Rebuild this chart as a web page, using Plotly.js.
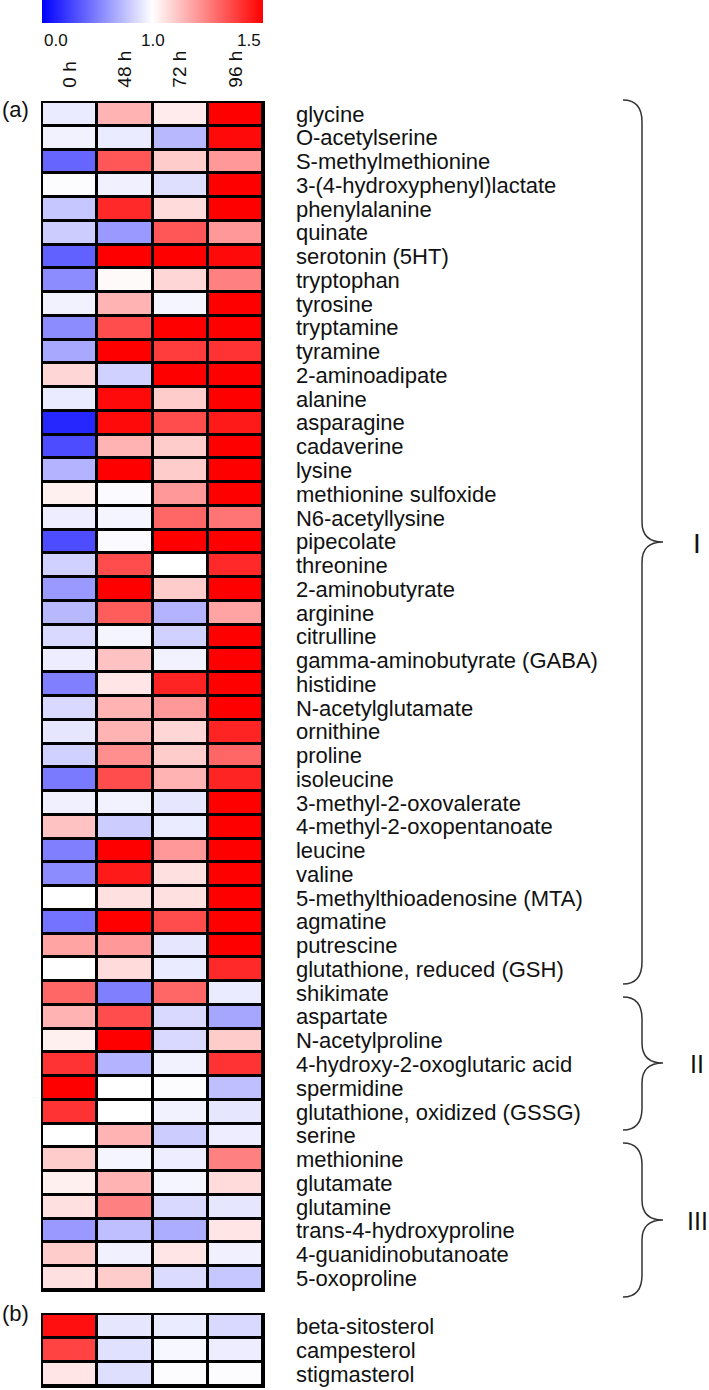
<!DOCTYPE html>
<html>
<head>
<meta charset="utf-8">
<script src="https://cdn.plot.ly/plotly-3.0.1.min.js"></script>
<style>
  body { margin: 0; background: #fff; }
  #plotly-div { width: 709px; height: 1390px; }
</style>
</head>
<body>
<div id="plotly-div"></div>
<script>
// time points (columns)
var timePoints = ['0 h', '48 h', '72 h', '96 h'];

// (a) metabolites, top to bottom
var metabolitesA = [
  'glycine', 'O-acetylserine', 'S-methylmethionine', '3-(4-hydroxyphenyl)lactate',
  'phenylalanine', 'quinate', 'serotonin (5HT)', 'tryptophan', 'tyrosine',
  'tryptamine', 'tyramine', '2-aminoadipate', 'alanine', 'asparagine',
  'cadaverine', 'lysine', 'methionine sulfoxide', 'N6-acetyllysine',
  'pipecolate', 'threonine', '2-aminobutyrate', 'arginine', 'citrulline',
  'gamma-aminobutyrate (GABA)', 'histidine', 'N-acetylglutamate', 'ornithine',
  'proline', 'isoleucine', '3-methyl-2-oxovalerate', '4-methyl-2-oxopentanoate',
  'leucine', 'valine', '5-methylthioadenosine (MTA)', 'agmatine', 'putrescine',
  'glutathione, reduced (GSH)', 'shikimate', 'aspartate', 'N-acetylproline',
  '4-hydroxy-2-oxoglutaric acid', 'spermidine', 'glutathione, oxidized (GSSG)',
  'serine', 'methionine', 'glutamate', 'glutamine', 'trans-4-hydroxyproline',
  '4-guanidinobutanoate', '5-oxoproline'
];

// fold change per time point, same order as metabolitesA
var foldA_0h = [
  0.92, 0.95, 0.40, 0.99, 0.78, 0.80, 0.38, 0.55, 0.95, 0.55,
  0.66, 1.08, 0.92, 0.15, 0.30, 0.70, 1.03, 0.93, 0.30, 0.82,
  0.60, 0.72, 0.85, 0.93, 0.50, 0.85, 0.90, 0.82, 0.48, 0.94,
  1.12, 0.50, 0.55, 1.00, 0.45, 1.18, 1.00, 1.30, 1.15, 1.03,
  1.40, 1.50, 1.40, 1.00, 1.10, 1.03, 1.06, 0.60, 1.10, 1.06
];
var foldA_48h = [
  1.15, 0.92, 1.33, 0.94, 1.42, 0.60, 1.50, 1.01, 1.15, 1.35,
  1.50, 0.82, 1.48, 1.48, 1.15, 1.50, 0.98, 0.96, 0.98, 1.35,
  1.50, 1.32, 0.96, 1.12, 1.05, 1.15, 1.15, 1.22, 1.35, 0.95,
  0.80, 1.50, 1.45, 1.06, 1.50, 1.20, 1.07, 0.50, 1.35, 1.50,
  0.70, 1.00, 1.00, 1.15, 0.96, 1.15, 1.25, 0.75, 0.94, 1.10
];
var foldA_72h = [
  1.04, 0.72, 1.10, 0.87, 1.07, 1.33, 1.50, 1.08, 0.96, 1.50,
  1.38, 1.50, 1.10, 1.35, 1.10, 1.10, 1.20, 1.30, 1.50, 1.00,
  1.10, 0.70, 0.82, 0.95, 1.43, 1.20, 1.08, 1.10, 1.15, 0.90,
  0.92, 1.20, 1.06, 1.06, 1.35, 0.90, 0.92, 1.30, 0.85, 0.85,
  0.95, 0.99, 0.95, 0.80, 0.93, 0.96, 0.85, 0.68, 1.05, 0.86
];
var foldA_96h = [
  1.50, 1.48, 1.20, 1.50, 1.50, 1.20, 1.48, 1.25, 1.50, 1.50,
  1.40, 1.50, 1.50, 1.45, 1.50, 1.50, 1.50, 1.27, 1.50, 1.42,
  1.50, 1.18, 1.50, 1.50, 1.50, 1.50, 1.43, 1.30, 1.43, 1.50,
  1.50, 1.50, 1.50, 1.50, 1.50, 1.50, 1.42, 0.92, 0.65, 1.10,
  1.40, 0.75, 0.90, 0.93, 1.25, 1.07, 0.90, 1.05, 0.94, 0.78
];

// (b) sterols
var sterolsB = ['beta-sitosterol', 'campesterol', 'stigmasterol'];
var foldB_0h = [1.47, 1.37, 1.05];
var foldB_48h = [0.90, 0.88, 0.87];
var foldB_72h = [0.92, 0.97, 0.99];
var foldB_96h = [0.85, 0.93, 0.99];

// cluster groups on the right
var groupNames = ['I', 'II', 'III'];

// scale: 0 -> blue, 1 -> white (middle), 1.5 -> red
function colorPos(v) {
  if (v < 1) return v / 2;
  return Math.min(1, 0.5 + (v - 1));
}

function buildZ(cols) {
  var z = [];
  for (var i = 0; i < cols[0].length; i++) {
    var row = [];
    for (var j = 0; j < cols.length; j++) row.push(colorPos(cols[j][i]));
    z.push(row);
  }
  return z;
}

var W = 709, H = 1390, L = 42, R = 263;
function px2x(px) { return (px - L) / (R - L); }
function px2y(py) { return 1 - py / H; }

var scale = [[0, 'rgb(0,0,255)'], [0.5, 'rgb(255,255,255)'], [1, 'rgb(255,0,0)']];

var traceA = {
  type: 'heatmap',
  x: timePoints,
  y: metabolitesA,
  z: buildZ([foldA_0h, foldA_48h, foldA_72h, foldA_96h]),
  zmin: 0, zmax: 1,
  colorscale: scale,
  xgap: 3, ygap: 3,
  xaxis: 'x', yaxis: 'y',
  hoverinfo: 'skip',
  colorbar: {
    orientation: 'h',
    x: 0.5, xanchor: 'center',
    y: 1, yanchor: 'top',
    len: 1, lenmode: 'fraction',
    thickness: 23,
    xpad: 0, ypad: 0,
    outlinewidth: 0,
    ticks: '',
    showticklabels: false
  }
};

var traceB = {
  type: 'heatmap',
  x: timePoints,
  y: sterolsB,
  z: buildZ([foldB_0h, foldB_48h, foldB_72h, foldB_96h]),
  zmin: 0, zmax: 1,
  colorscale: scale,
  showscale: false,
  xgap: 3, ygap: 3,
  xaxis: 'x2', yaxis: 'y2',
  hoverinfo: 'skip'
};

var labelFont = { family: 'Arial, Liberation Sans, sans-serif', size: 22, color: '#111' };

// curly braces drawn in pixel positions
function bracePath(top, mid, bot) {
  var xa = px2x(623), xb = px2x(642), xt = px2x(663);
  return 'M' + xa + ',' + px2y(top) +
    ' Q' + xb + ',' + px2y(top) + ' ' + xb + ',' + px2y(top + 22) +
    ' L' + xb + ',' + px2y(mid - 20) +
    ' Q' + xb + ',' + px2y(mid) + ' ' + xt + ',' + px2y(mid) +
    ' Q' + xb + ',' + px2y(mid) + ' ' + xb + ',' + px2y(mid + 20) +
    ' L' + xb + ',' + px2y(bot - 22) +
    ' Q' + xb + ',' + px2y(bot) + ' ' + xa + ',' + px2y(bot);
}

var braces = [[100, 542, 984], [997, 1063, 1130], [1143, 1220, 1297]];
var shapes = [];
var annotations = [];
for (var i = 0; i < braces.length; i++) {
  shapes.push({
    type: 'path', xref: 'paper', yref: 'paper',
    path: bracePath(braces[i][0], braces[i][1], braces[i][2]),
    line: { color: '#333', width: 1.5 }
  });
  annotations.push({
    xref: 'paper', yref: 'paper',
    x: px2x(697), y: px2y(braces[i][1] + 1),
    xanchor: 'center', yanchor: 'middle',
    text: groupNames[i], showarrow: false,
    font: { family: 'Arial, Liberation Sans, sans-serif', size: i === 0 ? 28 : 25, color: '#111' }
  });
}

// colorbar labels
var cbTicks = [['0.0', 42, 'left'], ['1.0', 152.5, 'center'], ['1.5', 263, 'right']];
cbTicks.forEach(function (t) {
  annotations.push({
    xref: 'paper', yref: 'paper', x: px2x(t[1]), y: px2y(40),
    xanchor: t[2], yanchor: 'middle', text: t[0], showarrow: false,
    font: { family: 'Arial, Liberation Sans, sans-serif', size: 17, color: '#111' }
  });
});

// panel letters
annotations.push({
  xref: 'paper', yref: 'paper', x: px2x(0), y: px2y(109),
  xanchor: 'left', yanchor: 'middle', text: '(a)', showarrow: false, font: labelFont
});
annotations.push({
  xref: 'paper', yref: 'paper', x: px2x(0), y: px2y(1313),
  xanchor: 'left', yanchor: 'middle', text: '(b)', showarrow: false, font: labelFont
});

var layout = {
  width: W, height: H,
  margin: { l: L, r: W - R, t: 0, b: 0, pad: 0 },
  paper_bgcolor: '#fff',
  plot_bgcolor: '#000',
  showlegend: false,
  xaxis: {
    domain: [0, 1], anchor: 'y', side: 'top',
    tickmode: 'array', tickvals: timePoints, ticktext: timePoints,
    tickangle: -90, ticks: '', ticklabelstandoff: 9,
    tickfont: { family: 'Arial, Liberation Sans, sans-serif', size: 19, color: '#111' },
    showline: true, mirror: true, linecolor: '#000', linewidth: 1.5,
    showgrid: false, zeroline: false, automargin: false, fixedrange: true
  },
  yaxis: {
    domain: [px2y(1290), px2y(102)], anchor: 'x', side: 'right',
    autorange: 'reversed',
    tickmode: 'array', tickvals: metabolitesA, ticktext: metabolitesA,
    ticks: '', ticklabelstandoff: 27,
    tickfont: labelFont,
    showline: true, mirror: true, linecolor: '#000', linewidth: 1.5,
    showgrid: false, zeroline: false, automargin: false, fixedrange: true
  },
  xaxis2: {
    domain: [0, 1], anchor: 'y2', matches: 'x', showticklabels: false, ticks: '',
    showline: true, mirror: true, linecolor: '#000', linewidth: 1.5,
    showgrid: false, zeroline: false, automargin: false, fixedrange: true
  },
  yaxis2: {
    domain: [px2y(1386), px2y(1314)], anchor: 'x2', side: 'right',
    autorange: 'reversed',
    tickmode: 'array', tickvals: sterolsB, ticktext: sterolsB,
    ticks: '', ticklabelstandoff: 27,
    tickfont: labelFont,
    showline: true, mirror: true, linecolor: '#000', linewidth: 1.5,
    showgrid: false, zeroline: false, automargin: false, fixedrange: true
  },
  shapes: shapes,
  annotations: annotations
};

Plotly.newPlot('plotly-div', [traceA, traceB], layout, { displayModeBar: false, staticPlot: true });
</script>
</body>
</html>
